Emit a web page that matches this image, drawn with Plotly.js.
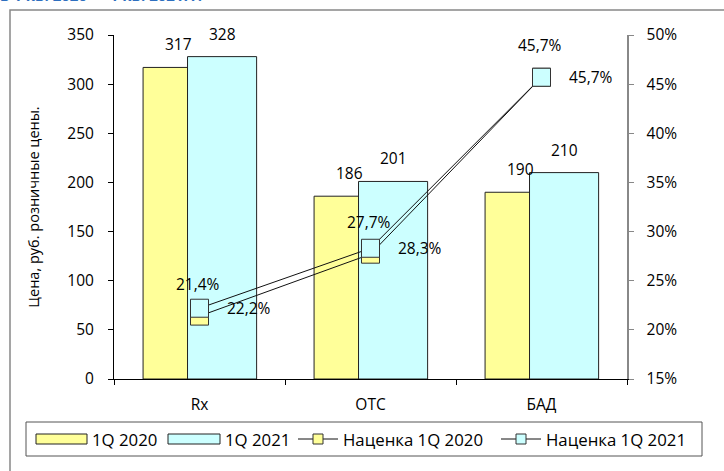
<!DOCTYPE html>
<html>
<head>
<meta charset="utf-8">
<script src="https://cdn.plot.ly/plotly-3.0.1.min.js"></script>
<style>html,body{margin:0;padding:0;background:#fff;}#chart{width:724px;height:471px;}</style>
</head>
<body>
<div id="chart"></div>
<script>
const categories = ['Rx', 'OTC', 'БАД'];
const price2020 = [317, 186, 190];
const price2021 = [328, 201, 210];
const markup2020 = [21.4, 27.7, 45.7];
const markup2021 = [22.2, 28.3, 45.7];
const seriesNames = ['1Q 2020', '1Q 2021', 'Наценка 1Q 2020', 'Наценка 1Q 2021'];
const yTitle = 'Цена, руб. розничные цены.';
const topTitle = 'в 1 кв. 2020 — 1 кв. 2021гг.';

const FONT = "'Open Sans', 'Noto Sans', sans-serif";
const FS = 15.5;      // ticks & data labels
const FS_LEG = 16.8;  // legend
const FS_TITLE = 14.5;
const YELLOW = '#FFFF99', CYAN = '#CCFFFF';
const BW = 0.404;
const fmtPct = v => v.toFixed(1).replace('.', ',') + '%';

const traces = [
  {type: 'bar', x: categories, y: price2020, name: seriesNames[0], width: BW, offset: -0.33,
   marker: {color: YELLOW, line: {color: '#222', width: 1}}, hoverinfo: 'none'},
  {type: 'bar', x: categories, y: price2021, name: seriesNames[1], width: BW, offset: -0.07,
   marker: {color: CYAN, line: {color: '#222', width: 1}}, hoverinfo: 'none'},
  {type: 'scatter', mode: 'lines+markers', x: categories, y: markup2020.map(v => v / 100), yaxis: 'y2',
   name: seriesNames[2], line: {color: '#111', width: 1},
   marker: {symbol: 'square', size: 18, color: YELLOW, line: {color: '#333', width: 1}}, hoverinfo: 'none'},
  {type: 'scatter', mode: 'lines+markers', x: categories, y: markup2021.map(v => v / 100), yaxis: 'y2',
   name: seriesNames[3], line: {color: '#111', width: 1},
   marker: {symbol: 'square', size: 18, color: CYAN, line: {color: '#333', width: 1}}, hoverinfo: 'none'}
];

const annotations = [];
const lblFont = {family: FONT, size: FS, color: '#000'};
const legFont = {family: FONT, size: FS_LEG, color: '#000'};
categories.forEach((c, i) => {
  annotations.push({x: c, y: price2020[i], xref: 'x', yref: 'y', text: String(price2020[i]), showarrow: false,
    xshift: -21, yshift: 23, font: lblFont});
  annotations.push({x: c, y: price2021[i], xref: 'x', yref: 'y', text: String(price2021[i]), showarrow: false,
    xshift: 23, yshift: 23, font: lblFont});
  annotations.push({x: c, y: markup2020[i] / 100, xref: 'x', yref: 'y2', text: fmtPct(markup2020[i]), showarrow: false,
    xshift: -2, yshift: 32, font: lblFont});
  annotations.push({x: c, y: markup2021[i] / 100, xref: 'x', yref: 'y2', text: fmtPct(markup2021[i]), showarrow: false,
    xanchor: 'left', xshift: 25, yshift: 0, font: lblFont});
});

// pixel -> paper helpers (plot area: x 114..627, y 35..379)
const L = 114, R = 627, T = 35, B = 379;
const px = p => (p - L) / (R - L);
const py = q => (B - q) / (B - T);

annotations.push({xref: 'paper', yref: 'paper', x: px(-2), y: py(-5), xanchor: 'left', yanchor: 'middle',
  text: '<b>' + topTitle + '</b>', showarrow: false, font: {family: FONT, size: 15, color: '#2E6FBF'}});

// custom legend
const legY = 439;
const shapes = [
  {type: 'rect', xref: 'paper', yref: 'paper', x0: px(10), x1: px(740), y0: py(10), y1: py(490),
   line: {color: '#888', width: 1.5}, fillcolor: 'rgba(0,0,0,0)', layer: 'below'},
  {type: 'rect', xref: 'paper', yref: 'paper', x0: px(26), x1: px(702), y0: py(422), y1: py(456),
   line: {color: '#555', width: 1}, fillcolor: 'rgba(0,0,0,0)'},
  {type: 'rect', xref: 'paper', yref: 'paper', x0: px(36), x1: px(87), y0: py(434), y1: py(444),
   line: {color: '#222', width: 1}, fillcolor: YELLOW},
  {type: 'rect', xref: 'paper', yref: 'paper', x0: px(168), x1: px(220), y0: py(434), y1: py(444),
   line: {color: '#222', width: 1}, fillcolor: CYAN},
  {type: 'line', xref: 'paper', yref: 'paper', x0: px(298), x1: px(338), y0: py(legY), y1: py(legY),
   line: {color: '#111', width: 1}},
  {type: 'rect', xref: 'paper', yref: 'paper', x0: px(313), x1: px(323), y0: py(434), y1: py(444),
   line: {color: '#333', width: 1}, fillcolor: YELLOW},
  {type: 'line', xref: 'paper', yref: 'paper', x0: px(501), x1: px(541), y0: py(legY), y1: py(legY),
   line: {color: '#111', width: 1}},
  {type: 'rect', xref: 'paper', yref: 'paper', x0: px(516), x1: px(526), y0: py(434), y1: py(444),
   line: {color: '#333', width: 1}, fillcolor: CYAN}
];
const legX = [90, 223, 341, 544];
seriesNames.forEach((n, i) => {
  annotations.push({xref: 'paper', yref: 'paper', x: px(legX[i]), y: py(legY), xanchor: 'left', yanchor: 'middle',
    text: n, showarrow: false, font: legFont});
});

const layout = {
  width: 724, height: 471,
  margin: {l: L, r: 724 - R, t: T, b: 471 - B},
  paper_bgcolor: '#fff', plot_bgcolor: '#fff',
  font: {family: FONT, size: FS, color: '#000'},
  showlegend: false,
  barmode: 'overlay',
  xaxis: {type: 'category', range: [-0.5, 2.5], tickson: 'boundaries', ticks: 'outside', ticklen: 5,
    tickcolor: '#000', showline: true, linecolor: '#000', linewidth: 1, showgrid: false, zeroline: false,
    tickfont: {family: FONT, size: FS}, ticklabelstandoff: 11, fixedrange: true},
  yaxis: {range: [0, 350], dtick: 50, ticks: 'outside', ticklen: 5, tickcolor: '#000', showline: true,
    linecolor: '#000', linewidth: 1, showgrid: false, zeroline: false, ticklabelstandoff: 11,
    title: {text: yTitle, standoff: 24, font: {family: FONT, size: FS_TITLE}}, fixedrange: true},
  yaxis2: {overlaying: 'y', side: 'right', range: [0.15, 0.5], dtick: 0.05, tickformat: '.0%',
    ticks: 'outside', ticklen: 5, tickcolor: '#888', showline: true, linecolor: '#888', linewidth: 1.5,
    showgrid: false, zeroline: false, ticklabelstandoff: 10, fixedrange: true},
  annotations: annotations,
  shapes: shapes
};

Plotly.newPlot('chart', traces, layout, {staticPlot: true, displayModeBar: false});
</script>
</body>
</html>
